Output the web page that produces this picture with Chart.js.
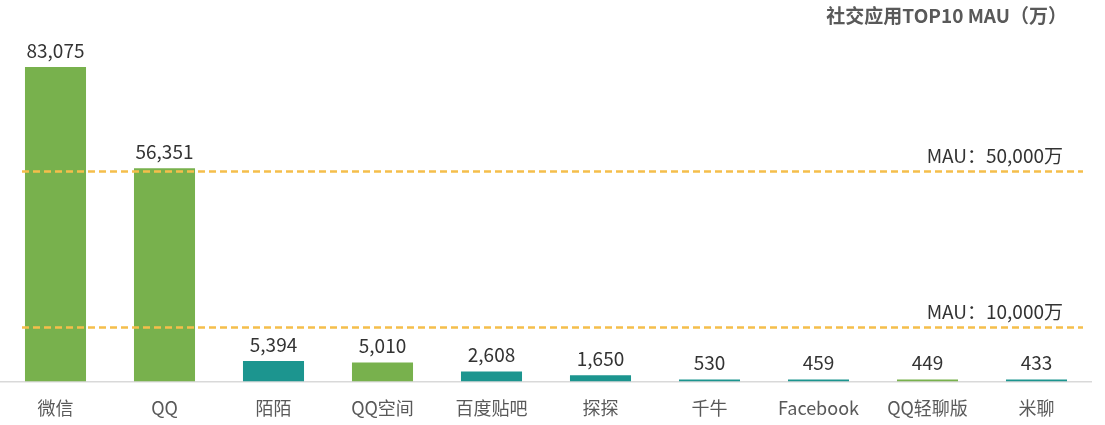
<!DOCTYPE html>
<html>
<head>
<meta charset="utf-8"/>
<style>
  body { margin: 0; padding: 0; background: #ffffff; }
  #wrap { width: 1105px; height: 425px; position: relative; }
</style>
<script src="https://cdn.jsdelivr.net/npm/chart.js@4.4.1/dist/chart.umd.min.js"></script>
</head>
<body>
<div id="wrap"><canvas id="c"></canvas></div>
<script>
// data
var apps = ['微信', 'QQ', '陌陌', 'QQ空间', '百度贴吧', '探探', '千牛', 'Facebook', 'QQ轻聊版', '米聊'];
var mau = [83075, 56351, 5394, 5010, 2608, 1650, 530, 459, 449, 433];
var isTencent = [true, true, false, true, false, false, false, false, true, false];
var refLabels = ['MAU：50,000万', 'MAU：10,000万'];
// where the dashed lines sit in the original (they are not placed at their true values)
var refLevels = [55600, 14300];
var titleText = '社交应用TOP10 MAU（万）';

var GREEN = '#78b14d';
var TEAL = '#1c958f';
var FONT = '"Noto Sans CJK SC", "Noto Sans", sans-serif';

var valueLabels = {
  id: 'valueLabels',
  afterDatasetsDraw: function(chart) {
    var ctx = chart.ctx;
    var meta = chart.getDatasetMeta(0);
    ctx.save();
    ctx.font = '19px ' + FONT;
    ctx.fillStyle = '#333333';
    ctx.textAlign = 'center';
    ctx.textBaseline = 'bottom';
    meta.data.forEach(function(bar, i) {
      ctx.fillText(mau[i].toLocaleString('en-US'), bar.x, bar.y - 7);
    });
    ctx.restore();
  }
};

var refLines = {
  id: 'refLines',
  afterDatasetsDraw: function(chart) {
    var ctx = chart.ctx;
    var y = chart.scales.y;
    var area = chart.chartArea;
    ctx.save();
    refLevels.forEach(function(v, i) {
      var py = Math.round(y.getPixelForValue(v)) + 0.5;
      ctx.beginPath();
      ctx.setLineDash([7, 4]);
      ctx.lineWidth = 2.5;
      ctx.strokeStyle = '#f5be4b';
      ctx.moveTo(area.left + 21, py);
      ctx.lineTo(area.right - 8, py);
      ctx.stroke();
      ctx.setLineDash([]);
      ctx.font = '19px ' + FONT;
      ctx.fillStyle = '#333333';
      ctx.textAlign = 'right';
      ctx.textBaseline = 'bottom';
      ctx.fillText(refLabels[i], 1063, py - 6);
    });
    ctx.font = 'bold 19px ' + FONT;
    ctx.fillStyle = '#595959';
    ctx.textAlign = 'right';
    ctx.textBaseline = 'middle';
    ctx.fillText(titleText, 1067, 16);
    ctx.restore();
  }
};

new Chart(document.getElementById('c'), {
  type: 'bar',
  data: {
    labels: apps,
    datasets: [{
      data: mau,
      backgroundColor: isTencent.map(function(t) { return t ? GREEN : TEAL; }),
      barPercentage: 0.56,
      categoryPercentage: 1.0,
      minBarLength: 2
    }]
  },
  options: {
    responsive: true,
    maintainAspectRatio: false,
    animation: false,
    layout: { padding: { top: 3, left: 1, right: 14, bottom: -10 } },
    plugins: {
      legend: { display: false },
      tooltip: { enabled: false }
    },
    scales: {
      x: {
        grid: { display: false, drawTicks: false },
        border: { color: '#d9d9d9', width: 1.5 },
        ticks: {
          color: '#595959',
          padding: 16,
          font: { family: FONT, size: 18 }
        }
      },
      y: {
        display: false,
        min: 0,
        max: 100000
      }
    }
  },
  plugins: [valueLabels, refLines]
});
</script>
</body>
</html>
